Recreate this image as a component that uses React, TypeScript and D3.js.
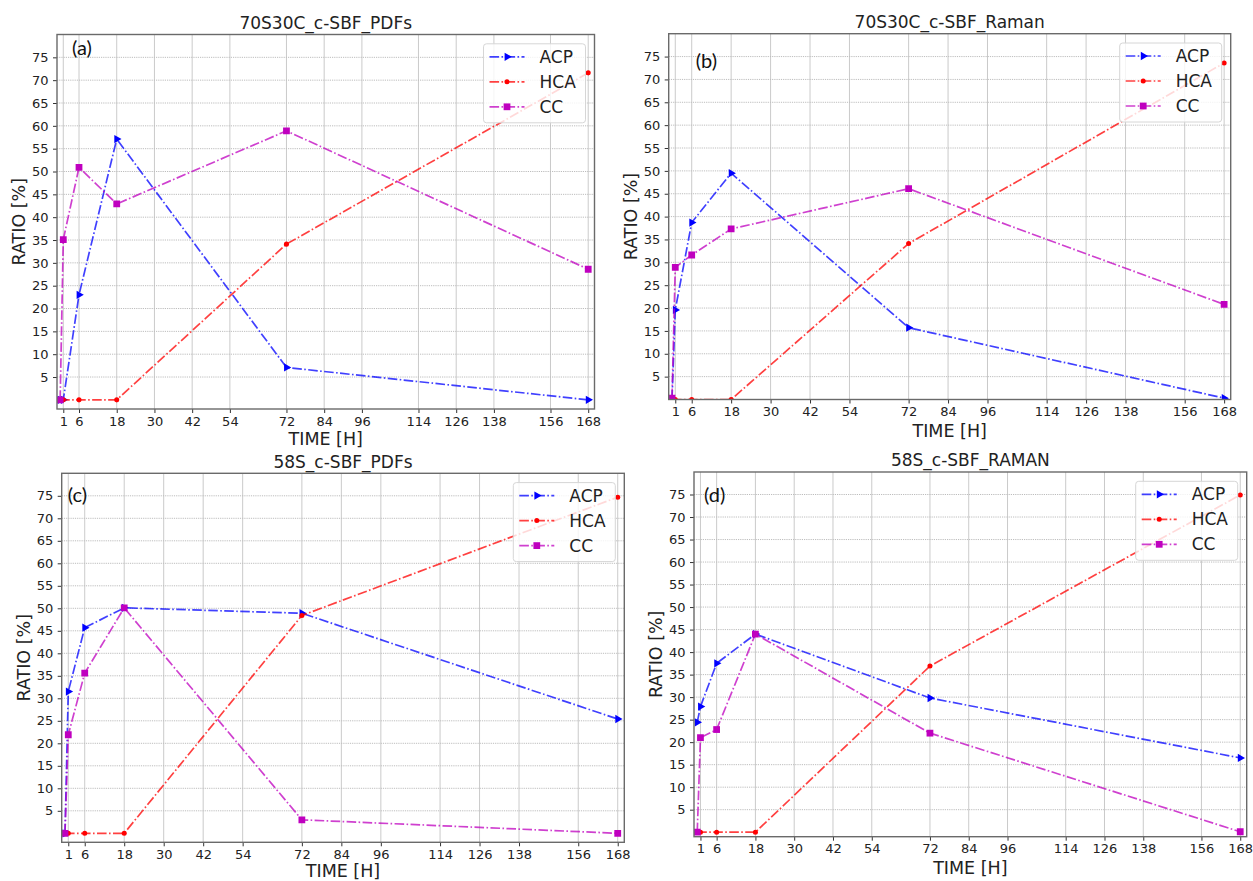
import React, { useEffect, useRef } from 'react';
import * as d3 from 'd3';

// sampling times (h) and axis ticks
const hours = [0, 1, 6, 18, 72, 168];
const xTicks = [1, 6, 18, 30, 42, 54, 72, 84, 96, 114, 126, 138, 156, 168];
const yTicks = [5, 10, 15, 20, 25, 30, 35, 40, 45, 50, 55, 60, 65, 70, 75];
const seriesNames = ['ACP', 'HCA', 'CC'];

// (a) 70S30C_c-SBF_PDFs
const acpA = [0, 0, 23.0, 57.1, 7.1, 0];
const hcaA = [0, 0, 0, 0, 34.1, 71.6];
const ccA = [0, 35.1, 50.9, 42.9, 58.9, 28.6];
// (b) 70S30C_c-SBF_Raman
const acpB = [0, 19.6, 38.7, 49.5, 15.7, 0.3];
const hcaB = [0, 0, 0, 0, 34.1, 73.6];
const ccB = [0.3, 28.9, 31.6, 37.3, 46.1, 20.8];
// (c) 58S_c-SBF_PDFs
const acpC = [0, 31.5, 45.7, 50.1, 48.9, 25.4];
const hcaC = [0, 0, 0, 0, 48.4, 74.7];
const ccC = [0, 21.9, 35.6, 50.1, 3.0, 0];
// (d) 58S_c-SBF_RAMAN
const acpD = [24.4, 27.9, 37.5, 44.0, 29.8, 16.5];
const hcaD = [0, 0, 0, 0, 36.9, 74.9];
const ccD = [0, 21.0, 22.8, 44.0, 22.0, 0.1];

const panels = [
  { tag: '(a)', title: '70S30C_c-SBF_PDFs', data: [acpA, hcaA, ccA], left: 57, top: 34.5, right: 594.5, bottom: 409, yMin: -2, tagX: 15, tagY: 20.5, xlab: 36 },
  { tag: '(b)', title: '70S30C_c-SBF_Raman', data: [acpB, hcaB, ccB], left: 668.7, top: 33.7, right: 1230.7, bottom: 399.5, yMin: 0, tagX: 27, tagY: 34, xlab: 37 },
  { tag: '(c)', title: '58S_c-SBF_PDFs', data: [acpC, hcaC, ccC], left: 61.7, top: 473.3, right: 624.3, bottom: 842.3, yMin: -2, tagX: 6, tagY: 28.4, xlab: 34.5 },
  { tag: '(d)', title: '58S_c-SBF_RAMAN', data: [acpD, hcaD, ccD], left: 694, top: 472, right: 1246.7, bottom: 836.7, yMin: -1, tagX: 10, tagY: 29.5, xlab: 37 },
];

const colors = ['#0000ff', '#ff0000', '#bf00bf'];
const FONT = 'DejaVu Sans, sans-serif';
const TEXT = '#222';

const App = () => {
  const svgRef = useRef(null);

  useEffect(() => {
    const svg = d3.select(svgRef.current);
    svg.selectAll('*').remove();

    const symbols = [
      d3.symbol(d3.symbolTriangle, 30),
      d3.symbol(d3.symbolCircle, 20),
      d3.symbol(d3.symbolSquare, 46),
    ];
    const rot = [90, 0, 0];

    panels.forEach((p, pi) => {
      const g = svg.append('g');
      const x = d3.scaleLinear().domain([-1, 170]).range([p.left, p.right]);
      const y = d3.scaleLinear().domain([p.yMin, 80]).range([p.bottom, p.top]);

      // grid
      g.append('g').selectAll('line').data(xTicks).join('line')
        .attr('x1', d => x(d)).attr('x2', d => x(d))
        .attr('y1', p.top).attr('y2', p.bottom)
        .attr('stroke', '#c4c4c4').attr('stroke-width', 0.9);
      g.append('g').selectAll('line').data(yTicks).join('line')
        .attr('x1', p.left).attr('x2', p.right)
        .attr('y1', d => y(d)).attr('y2', d => y(d))
        .attr('stroke', '#bdbdbd').attr('stroke-width', 1)
        .attr('stroke-dasharray', '1.2,1');

      // axes
      const xa = g.append('g').attr('transform', `translate(0,${p.bottom})`)
        .call(d3.axisBottom(x).tickValues(xTicks).tickSize(4).tickPadding(3.5).tickSizeOuter(0));
      const ya = g.append('g').attr('transform', `translate(${p.left},0)`)
        .call(d3.axisLeft(y).tickValues(yTicks).tickSize(4).tickPadding(4.5).tickSizeOuter(0));
      [xa, ya].forEach(a => {
        a.select('.domain').remove();
        a.attr('font-size', 13).attr('font-family', FONT);
        a.selectAll('text').attr('fill', TEXT);
        a.selectAll('line').attr('stroke', '#333').attr('stroke-width', 1);
      });

      // clip
      const clipId = `clip-${pi}`;
      g.append('clipPath').attr('id', clipId).append('rect')
        .attr('x', p.left).attr('y', p.top)
        .attr('width', p.right - p.left).attr('height', p.bottom - p.top);
      const plot = g.append('g').attr('clip-path', `url(#${clipId})`);

      const line = d3.line().x((_, i) => x(hours[i])).y(d => y(d));
      p.data.forEach((vals, si) => {
        plot.append('path').datum(vals)
          .attr('fill', 'none').attr('stroke', colors[si]).attr('stroke-opacity', 0.75)
          .attr('stroke-width', 1.7).attr('stroke-dasharray', '9.6,2.4,1.6,2.4')
          .attr('d', line);
        plot.append('g').selectAll('path').data(vals).join('path')
          .attr('d', symbols[si]())
          .attr('transform', (d, i) => `translate(${x(hours[i])},${y(d)}) rotate(${rot[si]})`)
          .attr('fill', colors[si]);
      });

      // frame
      g.append('rect').attr('x', p.left).attr('y', p.top)
        .attr('width', p.right - p.left).attr('height', p.bottom - p.top)
        .attr('fill', 'none').attr('stroke', '#6a6a6a').attr('stroke-width', 1.4);

      // legend
      const lw = 102, lh = 79;
      const lx = p.right - 9 - lw, ly = p.top + 9.3;
      const lg = g.append('g');
      lg.append('rect').attr('x', lx).attr('y', ly).attr('width', lw).attr('height', lh)
        .attr('rx', 3).attr('fill', '#fff').attr('fill-opacity', 0.8)
        .attr('stroke', '#d6d6d6').attr('stroke-width', 1);
      seriesNames.forEach((name, si) => {
        const ry = ly + 13 + si * 25;
        lg.append('line').attr('x1', lx + 6).attr('x2', lx + 41).attr('y1', ry).attr('y2', ry)
          .attr('stroke', colors[si]).attr('stroke-opacity', 0.75).attr('stroke-width', 1.7)
          .attr('stroke-dasharray', '9.6,2.4,1.6,2.4');
        lg.append('path').attr('d', symbols[si]())
          .attr('transform', `translate(${lx + 23.5},${ry}) rotate(${rot[si]})`)
          .attr('fill', colors[si]);
        lg.append('text').attr('x', lx + 56).attr('y', ry).attr('dy', '0.36em')
          .attr('font-family', FONT).attr('font-size', 17).attr('fill', TEXT).text(name);
      });

      // texts
      const cx = (p.left + p.right) / 2;
      g.append('text').attr('x', cx).attr('y', p.top - 5.7).attr('text-anchor', 'middle')
        .attr('font-family', FONT).attr('font-size', 17).attr('fill', TEXT).text(p.title);
      g.append('text').attr('x', cx).attr('y', p.bottom + p.xlab).attr('text-anchor', 'middle')
        .attr('font-family', FONT).attr('font-size', 17.5).attr('fill', TEXT).text('TIME [H]');
      const cy = (p.top + p.bottom) / 2;
      g.append('text').attr('transform', `translate(${p.left - 38},${cy}) rotate(-90)`)
        .attr('text-anchor', 'middle').attr('dy', '0.36em')
        .attr('font-family', FONT).attr('font-size', 17.5).attr('fill', TEXT).text('RATIO [%]');
      g.append('text').attr('x', p.left + p.tagX).attr('y', p.top + p.tagY)
        .attr('font-family', 'Lato, Open Sans, sans-serif').attr('font-size', 20).attr('fill', '#111').text(p.tag);
    });
  }, []);

  return (
    <div style={{ position: 'absolute', left: 0, top: 0 }}>
      <svg ref={svgRef} width={1253} height={881} style={{ display: 'block', background: '#fff' }} />
    </div>
  );
};

export default App;
